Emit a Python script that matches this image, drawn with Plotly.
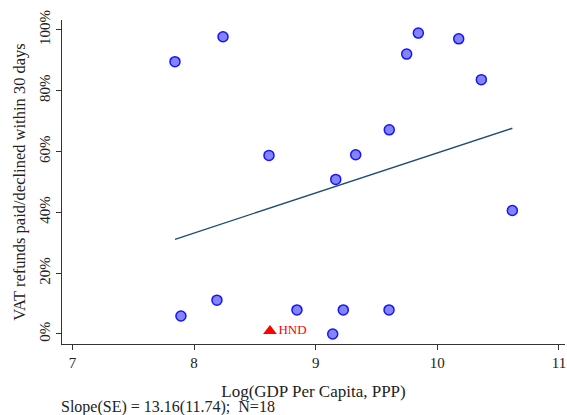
import numpy as np
import plotly.graph_objects as go

# Country observations: log GDP per capita (PPP) and share of VAT refunds
# paid/declined within 30 days (percent)
log_gdp = [7.843, 7.892, 8.188, 8.238, 8.616, 8.846, 9.165, 9.140, 9.227,
           9.329, 9.605, 9.603, 9.748, 9.844, 10.176, 10.362, 10.617]
refund_pct = [89.5, 5.9, 11.1, 97.7, 58.7, 7.9, 50.8, 0.0, 7.9,
              58.9, 67.1, 7.9, 92.0, 98.9, 97.0, 83.6, 40.6]

# Highlighted country
hnd_label = "HND"
hnd_x = 8.624
hnd_y = 1.0

# Linear fit
slope = 13.16
slope_se = 11.74
intercept = -72.1
n_obs = 18

x_ticks = [7, 8, 9, 10, 11]
y_ticks = [0, 20, 40, 60, 80, 100]
y_tick_text = [f"{v}%" for v in y_ticks]

all_x = log_gdp + [hnd_x]
fit_x = np.array([min(all_x), max(all_x)])
fit_y = intercept + slope * fit_x

FONT = "Liberation Serif"

fig = go.Figure()
fig.add_trace(go.Scatter(
    x=fit_x, y=fit_y, mode="lines",
    line=dict(color="#1f4b75", width=1.4),
    hoverinfo="skip", showlegend=False,
))
fig.add_trace(go.Scatter(
    x=log_gdp, y=refund_pct, mode="markers",
    marker=dict(size=10, color="rgba(110,110,255,0.85)",
                line=dict(color="#1414ff", width=1.5)),
    showlegend=False,
))
fig.add_trace(go.Scatter(
    x=[hnd_x], y=[hnd_y], mode="markers+text",
    marker=dict(symbol="triangle-up", size=12, color="#ff0000"),
    text=[hnd_label], textposition="middle right",
    textfont=dict(family=FONT, size=13, color="#ff0000"),
    showlegend=False,
))

axis_common = dict(
    showgrid=False, zeroline=False, showline=True,
    linecolor="#333333", linewidth=1.3,
    ticks="outside", ticklen=5, tickwidth=1.3, tickcolor="#333333",
    tickfont=dict(family=FONT, size=15, color="#222222"),
)

fig.update_layout(
    width=567, height=415,
    margin=dict(l=62, r=2, t=20, b=71),
    paper_bgcolor="white", plot_bgcolor="white",
    font=dict(family=FONT, color="#222222"),
    xaxis=dict(
        range=[6.914, 11.05], tickvals=x_ticks,
        title=dict(text="Log(GDP Per Capita, PPP)",
                   font=dict(family=FONT, size=17), standoff=14),
        **axis_common,
    ),
    yaxis=dict(
        range=[-3.3, 103.2], tickvals=y_ticks, ticktext=y_tick_text,
        tickangle=-90,
        title=dict(text="VAT refunds paid/declined within 30 days",
                   font=dict(family=FONT, size=16.5), standoff=7),
        **axis_common,
    ),
    annotations=[dict(
        text=f"Slope(SE) = {slope:.2f}({slope_se:.2f});  N={n_obs}",
        xref="paper", yref="paper", x=-0.005, y=-0.194,
        xanchor="left", yanchor="middle", showarrow=False,
        font=dict(family=FONT, size=16, color="#222222"),
    )],
)

fig.write_html("out.html")
